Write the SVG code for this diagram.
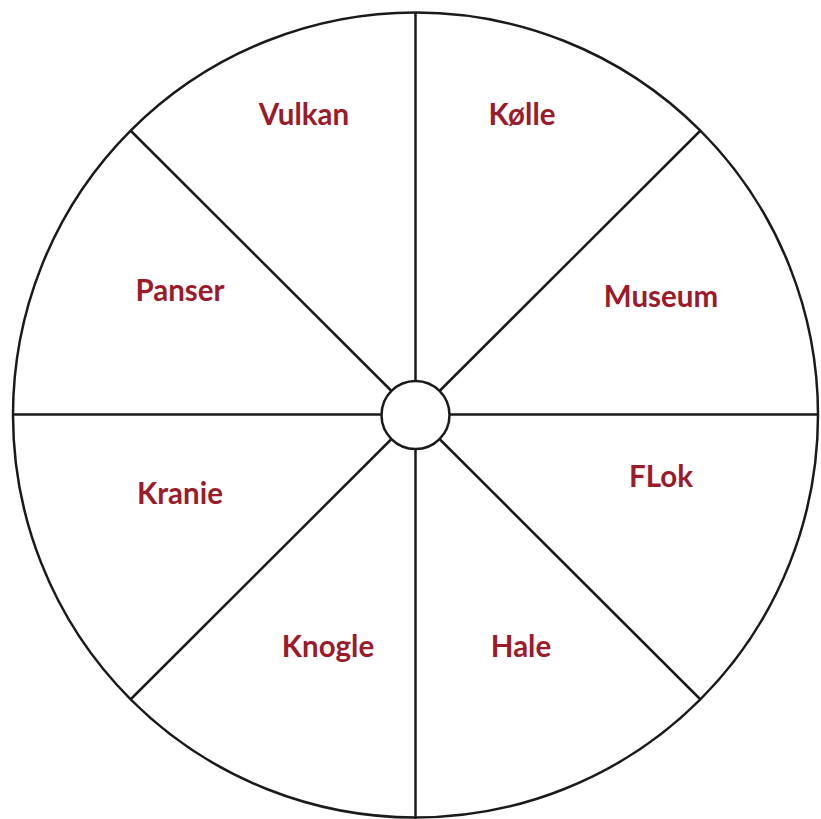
<svg xmlns="http://www.w3.org/2000/svg" width="821" height="819" viewBox="0 0 821 819">
<style>
.ln{stroke:#1a1a1a;stroke-width:2.5;fill:none}
.lb{font-family:Lato,"Open Sans",sans-serif;font-weight:bold;font-size:29.5px;fill:#9b1b2a;text-anchor:middle}
</style>
<rect width="821" height="819" fill="#fff"/>
<g id="wheel">
<circle class="ln" cx="415.5" cy="415" r="402.5" fill="#fff"/>
</g>
<g id="connectors">
<line class="ln" x1="415.5" y1="12.5" x2="415.5" y2="381"/>
<line class="ln" x1="415.5" y1="449" x2="415.5" y2="819"/>
<line class="ln" x1="13" y1="414.5" x2="381.5" y2="414.5"/>
<line class="ln" x1="449.5" y1="414.5" x2="818" y2="414.5"/>
<line class="ln" x1="131" y1="131" x2="391.5" y2="391"/>
<line class="ln" x1="700" y1="131" x2="439.5" y2="391"/>
<line class="ln" x1="131" y1="699" x2="391.5" y2="439"/>
<line class="ln" x1="700" y1="699" x2="439.5" y2="439"/>
</g>
<g id="hub"><circle class="ln" cx="415.5" cy="415" r="34" fill="#fff"/></g>
<g id="vulkan"><text class="lb" x="304" y="125">Vulkan</text></g>
<g id="kolle"><text class="lb" x="522" y="125">Kølle</text></g>
<g id="panser"><text class="lb" x="180" y="301">Panser</text></g>
<g id="museum"><text class="lb" x="661" y="307">Museum</text></g>
<g id="kranie"><text class="lb" x="180" y="504">Kranie</text></g>
<g id="flok"><text class="lb" x="661" y="487">FLok</text></g>
<g id="knogle"><text class="lb" x="328" y="657">Knogle</text></g>
<g id="hale"><text class="lb" x="521" y="657">Hale</text></g>
</svg>
